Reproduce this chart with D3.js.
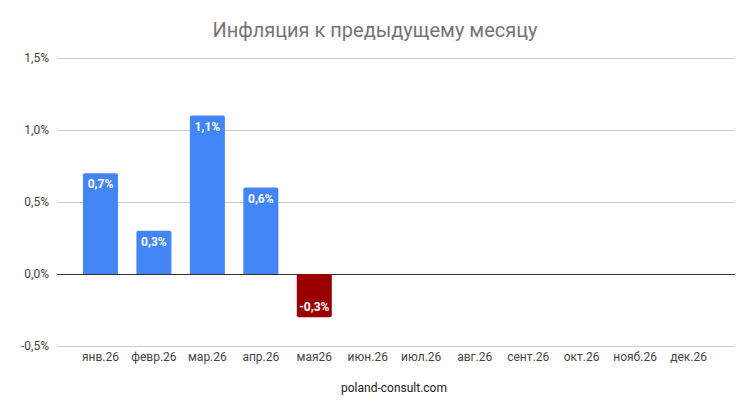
<!DOCTYPE html>
<html><head><meta charset="utf-8">
<script src="https://cdn.jsdelivr.net/npm/d3@7.9.0/dist/d3.min.js"></script>
<style>body{margin:0;background:#fff;font-family:Roboto,Arial,sans-serif}</style>
</head><body><div id="chart"></div>
<script>
const months = ['янв.26','февр.26','мар.26','апр.26','мая26','июн.26','июл.26','авг.26','сент.26','окт.26','нояб.26','дек.26'];
const values = [0.7, 0.3, 1.1, 0.6, -0.3, null, null, null, null, null, null, null];
const yTicks = [-0.5, 0, 0.5, 1.0, 1.5];

const width = 750, height = 415;
const svg = d3.select('#chart').append('svg').attr('width', width).attr('height', height);

const x = d3.scaleBand().domain(months).range([64.5, 724.5]).padding(0.345);
const y = d3.scaleLinear().domain([-0.5, 1.5]).range([346, 58]);
const fmt = v => d3.format('.1f')(v).replace('.', ',').replace('−', '-') + '%';

svg.append('text').attr('x', 375).attr('y', 37).attr('text-anchor', 'middle')
  .attr('font-size', 20).attr('fill', '#757575').text('Инфляция к предыдущему месяцу');

// grid
svg.selectAll('.grid').data(yTicks).join('line')
  .attr('x1', 57).attr('x2', 735).attr('y1', d => y(d)).attr('y2', d => y(d))
  .attr('stroke', d => d === 0 ? '#333' : '#ccc').attr('stroke-width', 1)
  .attr('shape-rendering', 'crispEdges');

svg.selectAll('.ytick').data(yTicks).join('text')
  .attr('x', 49).attr('y', d => y(d) + 4).attr('text-anchor', 'end')
  .attr('font-size', 12).attr('fill', '#444').text(fmt);

const data = months.map((m, i) => ({m, v: values[i]})).filter(d => d.v != null);

svg.selectAll('.bar').data(data).join('path')
  .attr('fill', d => d.v >= 0 ? '#4285F4' : '#990000')
  .attr('d', d => {
    const x0 = x(d.m), w = x.bandwidth(), r = 2;
    const y0 = y(0), y1 = y(d.v);
    if (d.v >= 0) return `M${x0},${y0}V${y1 + r}Q${x0},${y1} ${x0 + r},${y1}H${x0 + w - r}Q${x0 + w},${y1} ${x0 + w},${y1 + r}V${y0}Z`;
    return `M${x0},${y0}V${y1 - r}Q${x0},${y1} ${x0 + r},${y1}H${x0 + w - r}Q${x0 + w},${y1} ${x0 + w},${y1 - r}V${y0}Z`;
  });

svg.selectAll('.lbl').data(data).join('text')
  .attr('x', d => x(d.m) + x.bandwidth() / 2)
  .attr('y', d => d.v >= 0 ? y(d.v) + 15 : y(d.v) - 6)
  .attr('text-anchor', 'middle').attr('font-size', 12).attr('font-weight', 'bold')
  .attr('fill', '#fff').text(d => fmt(d.v));

svg.selectAll('.xtick').data(months).join('text')
  .attr('x', d => x(d) + x.bandwidth() / 2).attr('y', 361).attr('text-anchor', 'middle')
  .attr('font-size', 12).attr('fill', '#444').text(d => d);

svg.append('text').attr('x', 394).attr('y', 392).attr('text-anchor', 'middle')
  .attr('font-size', 12).attr('fill', '#222').text('poland-consult.com');
</script></body></html>
